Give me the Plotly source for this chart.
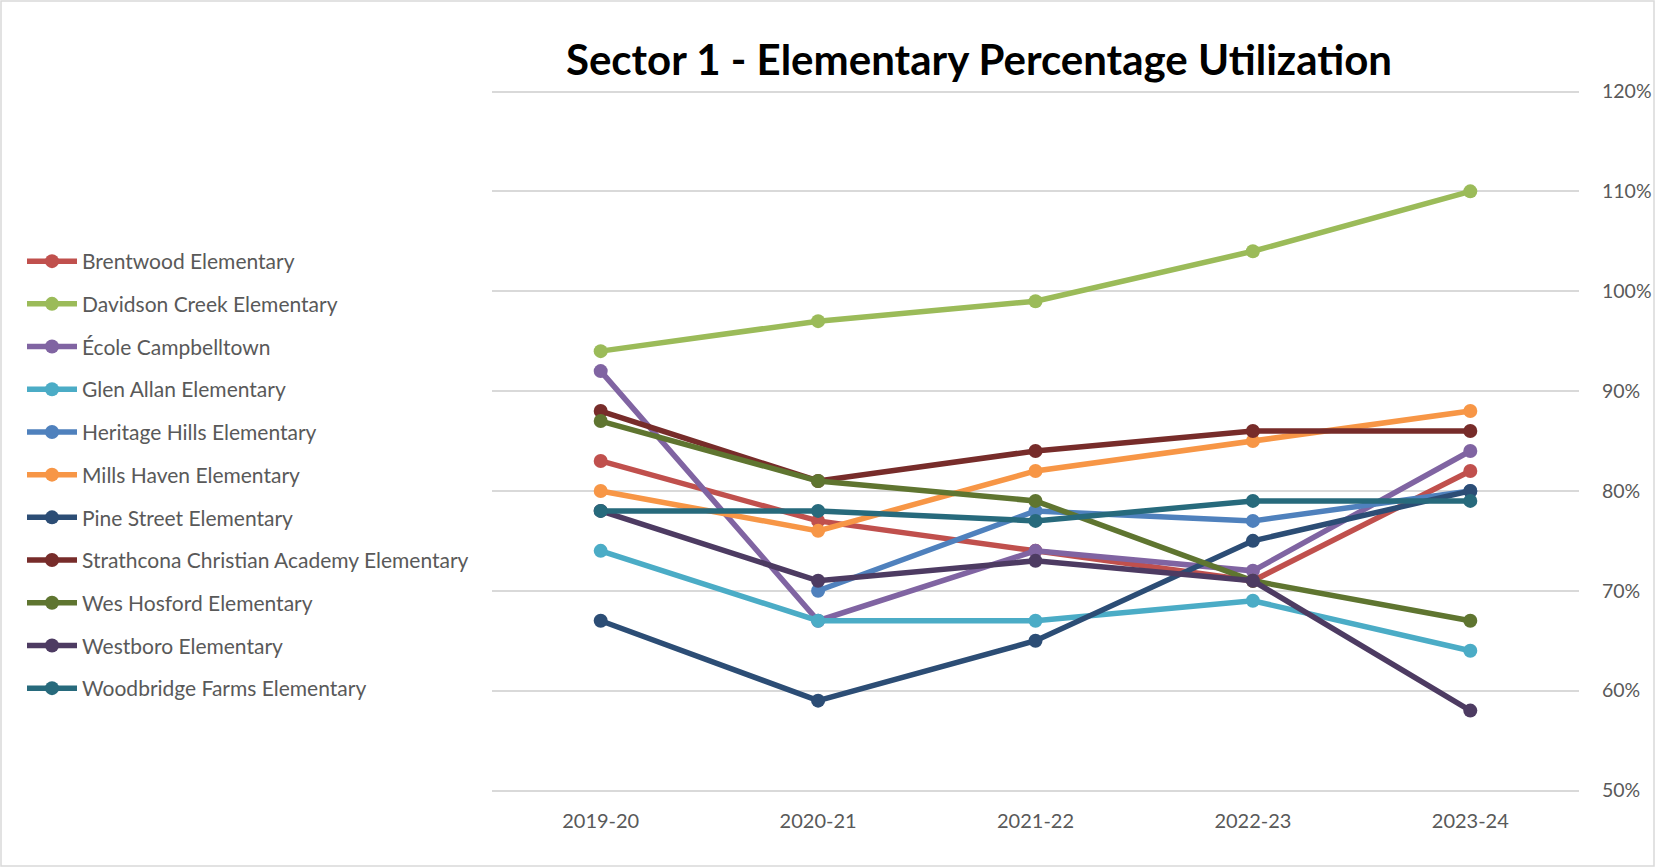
import plotly.graph_objects as go

years = ["2019-20", "2020-21", "2021-22", "2022-23", "2023-24"]

schools = [
    "Brentwood Elementary",
    "Davidson Creek Elementary",
    "École Campbelltown",
    "Glen Allan Elementary",
    "Heritage Hills Elementary",
    "Mills Haven Elementary",
    "Pine Street Elementary",
    "Strathcona Christian Academy Elementary",
    "Wes Hosford Elementary",
    "Westboro Elementary",
    "Woodbridge Farms Elementary",
]

brentwood = [0.83, 0.77, 0.74, 0.71, 0.82]
davidson_creek = [0.94, 0.97, 0.99, 1.04, 1.10]
ecole_campbelltown = [0.92, 0.67, 0.74, 0.72, 0.84]
glen_allan = [0.74, 0.67, 0.67, 0.69, 0.64]
heritage_hills = [None, 0.70, 0.78, 0.77, 0.80]
mills_haven = [0.80, 0.76, 0.82, 0.85, 0.88]
pine_street = [0.67, 0.59, 0.65, 0.75, 0.80]
strathcona_christian = [0.88, 0.81, 0.84, 0.86, 0.86]
wes_hosford = [0.87, 0.81, 0.79, 0.71, 0.67]
westboro = [0.78, 0.71, 0.73, 0.71, 0.58]
woodbridge_farms = [0.78, 0.78, 0.77, 0.79, 0.79]

series = [brentwood, davidson_creek, ecole_campbelltown, glen_allan, heritage_hills,
          mills_haven, pine_street, strathcona_christian, wes_hosford, westboro,
          woodbridge_farms]

colors = ["#C0504D", "#9BBB59", "#8064A2", "#4BACC6", "#4F81BD", "#F79646",
          "#2C4D75", "#772C2A", "#5F7530", "#4D3B62", "#276A7C"]

L, R, T, B = 492, 77, 90, 76
PW = 1656 - L - R
PH = 868 - T - B

fig = go.Figure()
for name, vals, col in zip(schools, series, colors):
    fig.add_trace(go.Scatter(
        x=years, y=vals, name=name, mode="lines+markers",
        line=dict(color=col, width=5.5),
        marker=dict(color=col, size=14),
        legendgroup=name,
    ))

fig.update_layout(
    width=1656, height=868,
    paper_bgcolor="white", plot_bgcolor="white",
    margin=dict(l=L, r=R, t=T, b=B),
    title=dict(
        text="<b>Sector 1 - Elementary Percentage Utilization</b>",
        x=979 / 1656, xanchor="center", xref="container",
        y=1 - 60 / 868, yanchor="middle", yref="container",
        font=dict(family="Lato", size=42, color="#000000"),
    ),
    legend=dict(
        x=(22 - L) / PW, xanchor="left",
        y=1 - (241 - T) / PH, yanchor="top",
        font=dict(family="Lato", size=21, color="#595959"),
        tracegroupgap=12.4,
        bgcolor="rgba(0,0,0,0)",
        itemwidth=50,
    ),
    font=dict(family="Lato", color="#595959"),
    showlegend=True,
)

fig.update_xaxes(
    type="category", range=[-0.5, 4.5], automargin=False,
    showgrid=False, showline=False, zeroline=False,
    tickfont=dict(family="Lato", size=20, color="#595959"),
    ticks="", ticklabelstandoff=15,
)
fig.update_yaxes(
    range=[0.4985, 1.2015], dtick=0.1, tick0=0.5, tickformat=".0%",
    side="right", showgrid=True, gridcolor="#D9D9D9", gridwidth=1.5,
    zeroline=False, showline=False, ticks="", automargin=False,
    tickfont=dict(family="Lato", size=19.5, color="#595959"),
    ticklabelstandoff=22,
)

fig.add_shape(type="rect", xref="paper", yref="paper",
              x0=(1 - L) / PW, x1=(1654 - L) / PW,
              y0=-(B - 2) / PH,
              y1=1 + (T - 1) / PH,
              line=dict(color="#D9D9D9", width=1.5), fillcolor="rgba(0,0,0,0)",
              layer="below")

fig.write_html("out.html")
